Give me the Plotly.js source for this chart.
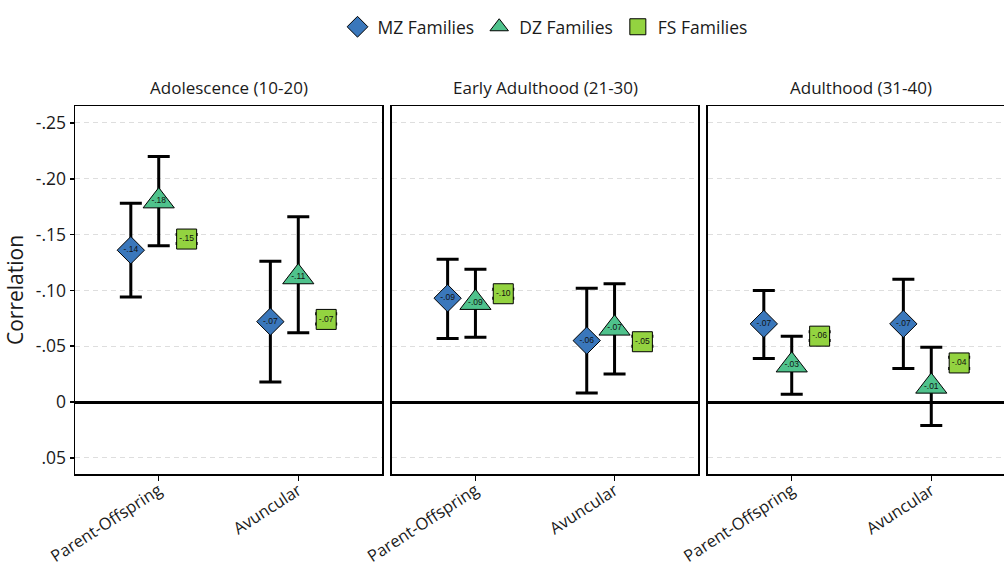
<!DOCTYPE html>
<html>
<head>
<meta charset="utf-8">
<script src="https://cdn.plot.ly/plotly-3.0.1.min.js"></script>
<style>
html, body { margin: 0; padding: 0; overflow: hidden; background: #fff; }
#chart { width: 1020px; height: 566px; }
</style>
</head>
<body>
<div id="chart"></div>
<script>
// ---- data (order: period x category) ----
const periods = ['Adolescence (10-20)', 'Early Adulthood (21-30)', 'Adulthood (31-40)'];
const categories = ['Parent-Offspring', 'Avuncular'];
const seriesNames = ['MZ Families', 'DZ Families', 'FS Families'];

// each array: [P1 PO, P1 Av, P2 PO, P2 Av, P3 PO, P3 Av]
const mzEst = [-0.136, -0.072, -0.093, -0.055, -0.070, -0.070];
const mzLo  = [-0.178, -0.126, -0.128, -0.102, -0.100, -0.110];
const mzHi  = [-0.094, -0.018, -0.057, -0.008, -0.039, -0.030];
const mzLab = ['-.14', '-.07', '-.09', '-.06', '-.07', '-.07'];

const dzEst = [-0.180, -0.112, -0.089, -0.066, -0.033, -0.014];
const dzLo  = [-0.220, -0.166, -0.119, -0.106, -0.059, -0.049];
const dzHi  = [-0.140, -0.062, -0.058, -0.025, -0.007, 0.021];
const dzLab = ['-.18', '-.11', '-.09', '-.07', '-.03', '-.01'];

const fsEst = [-0.146, -0.074, -0.097, -0.054, -0.059, -0.035];
const fsLo  = [-0.150, -0.079, -0.101, -0.059, -0.063, -0.040];
const fsHi  = [-0.142, -0.070, -0.093, -0.050, -0.055, -0.030];
const fsLab = ['-.15', '-.07', '-.10', '-.05', '-.06', '-.04'];

const yTickVals = [-0.25, -0.20, -0.15, -0.10, -0.05, 0, 0.05];
const yTickText = ['-.25', '-.20', '-.15', '-.10', '-.05', '0', '.05'];

// ---- styles ----
const FONT = 'Open Sans, Noto Sans, DejaVu Sans, sans-serif';
const seriesData = [
  {est: mzEst, lo: mzLo, hi: mzHi, lab: mzLab, symbol: 'diamond', size: 21, color: '#3a77bb'},
  {est: dzEst, lo: dzLo, hi: dzHi, lab: dzLab, symbol: 'triangle-up', size: 27, color: '#4fc28c'},
  {est: fsEst, lo: fsLo, hi: fsHi, lab: fsLab, symbol: 'square', size: 20, color: '#93d340'}
];
const dodge = [-0.2, 0, 0.2];

const traces = [];
seriesData.forEach((s, si) => {
  periods.forEach((p, pi) => {
    const idx = [pi * 2, pi * 2 + 1];
    const axSuffix = pi === 0 ? '' : String(pi + 1);
    traces.push({
      type: 'scatter',
      mode: 'markers+text',
      name: seriesNames[si],
      legendgroup: seriesNames[si],
      showlegend: pi === 0,
      xaxis: 'x' + axSuffix,
      yaxis: 'y' + axSuffix,
      x: categories.map((c, ci) => ci + 1 + dodge[si]),
      y: idx.map(i => s.est[i]),
      text: idx.map(i => s.lab[i]),
      textposition: 'middle center',
      textfont: {family: 'Liberation Sans, Arial, sans-serif', size: 8.5, color: '#111'},
      marker: {symbol: s.symbol, size: s.size, color: s.color, line: {color: '#000', width: 1}},
      error_y: {
        type: 'data', symmetric: false,
        array: idx.map(i => s.hi[i] - s.est[i]),
        arrayminus: idx.map(i => s.est[i] - s.lo[i]),
        color: '#000', thickness: 3, width: 11
      },
      hoverinfo: 'skip',
      cliponaxis: false
    });
  });
});

const domains = [[0, 0.3266], [0.3372, 0.6628], [0.6734, 1]];
const layout = {
  width: 1020, height: 566,
  margin: {l: 75, r: 5, t: 106, b: 92},
  paper_bgcolor: '#fff', plot_bgcolor: '#fff',
  font: {family: FONT, color: '#1a1a1a'},
  showlegend: true,
  legend: {
    orientation: 'h', x: 0.5, xanchor: 'center', y: 1.215, yanchor: 'middle',
    font: {family: FONT, size: 17.5, color: '#1a1a1a'}, itemsizing: 'trace'
  },
  annotations: [],
  hovermode: false
};
periods.forEach((p, pi) => {
  const s = pi === 0 ? '' : String(pi + 1);
  layout['xaxis' + s] = {
    domain: domains[pi], anchor: 'y' + s, range: [0.4, 2.6],
    tickvals: [1, 2], ticktext: categories, tickangle: -33,
    ticks: 'outside', ticklen: 5, tickwidth: 1.5, tickcolor: '#000',
    ticklabelstandoff: -6,
    showline: true, mirror: true, linecolor: '#000', linewidth: 1.5,
    showgrid: false, zeroline: false,
    tickfont: {family: FONT, size: 16.5, color: '#1a1a1a'}, fixedrange: true
  };
  layout['yaxis' + s] = {
    anchor: 'x' + s, range: [0.0645, -0.2652],
    tickvals: yTickVals, ticktext: yTickText,
    showticklabels: pi === 0,
    ticks: pi === 0 ? 'outside' : '', ticklen: 4, tickwidth: 1.5, tickcolor: '#000',
    showgrid: true, gridcolor: '#dedede', gridwidth: 1, griddash: '5px,4px',
    zeroline: true, zerolinecolor: '#000', zerolinewidth: 3,
    showline: true, mirror: true, linecolor: '#000', linewidth: 1.5,
    tickfont: {family: FONT, size: 17.5, color: '#1a1a1a'}, fixedrange: true
  };
  if (pi === 0) {
    layout.yaxis.title = {text: 'Correlation', font: {family: FONT, size: 21, color: '#1a1a1a'}};
  }
  layout.annotations.push({
    xref: 'x' + s + ' domain', yref: 'y' + s + ' domain', x: 0.5, y: 1,
    xanchor: 'center', yanchor: 'bottom', yshift: 5, showarrow: false,
    text: p, font: {family: FONT, size: 17, color: '#1a1a1a'}
  });
});

Plotly.newPlot('chart', traces, layout, {displayModeBar: false, staticPlot: true}).then(gd => {
  // enlarge legend symbols to match the plotted marker size
  gd.querySelectorAll('.legend .scatterpts path.point').forEach(el => {
    const t = el.getAttribute('transform') || '';
    el.setAttribute('transform', t + ' scale(1.55)');
    el.style.strokeWidth = '0.7px';
  });
});
</script>
</body>
</html>
